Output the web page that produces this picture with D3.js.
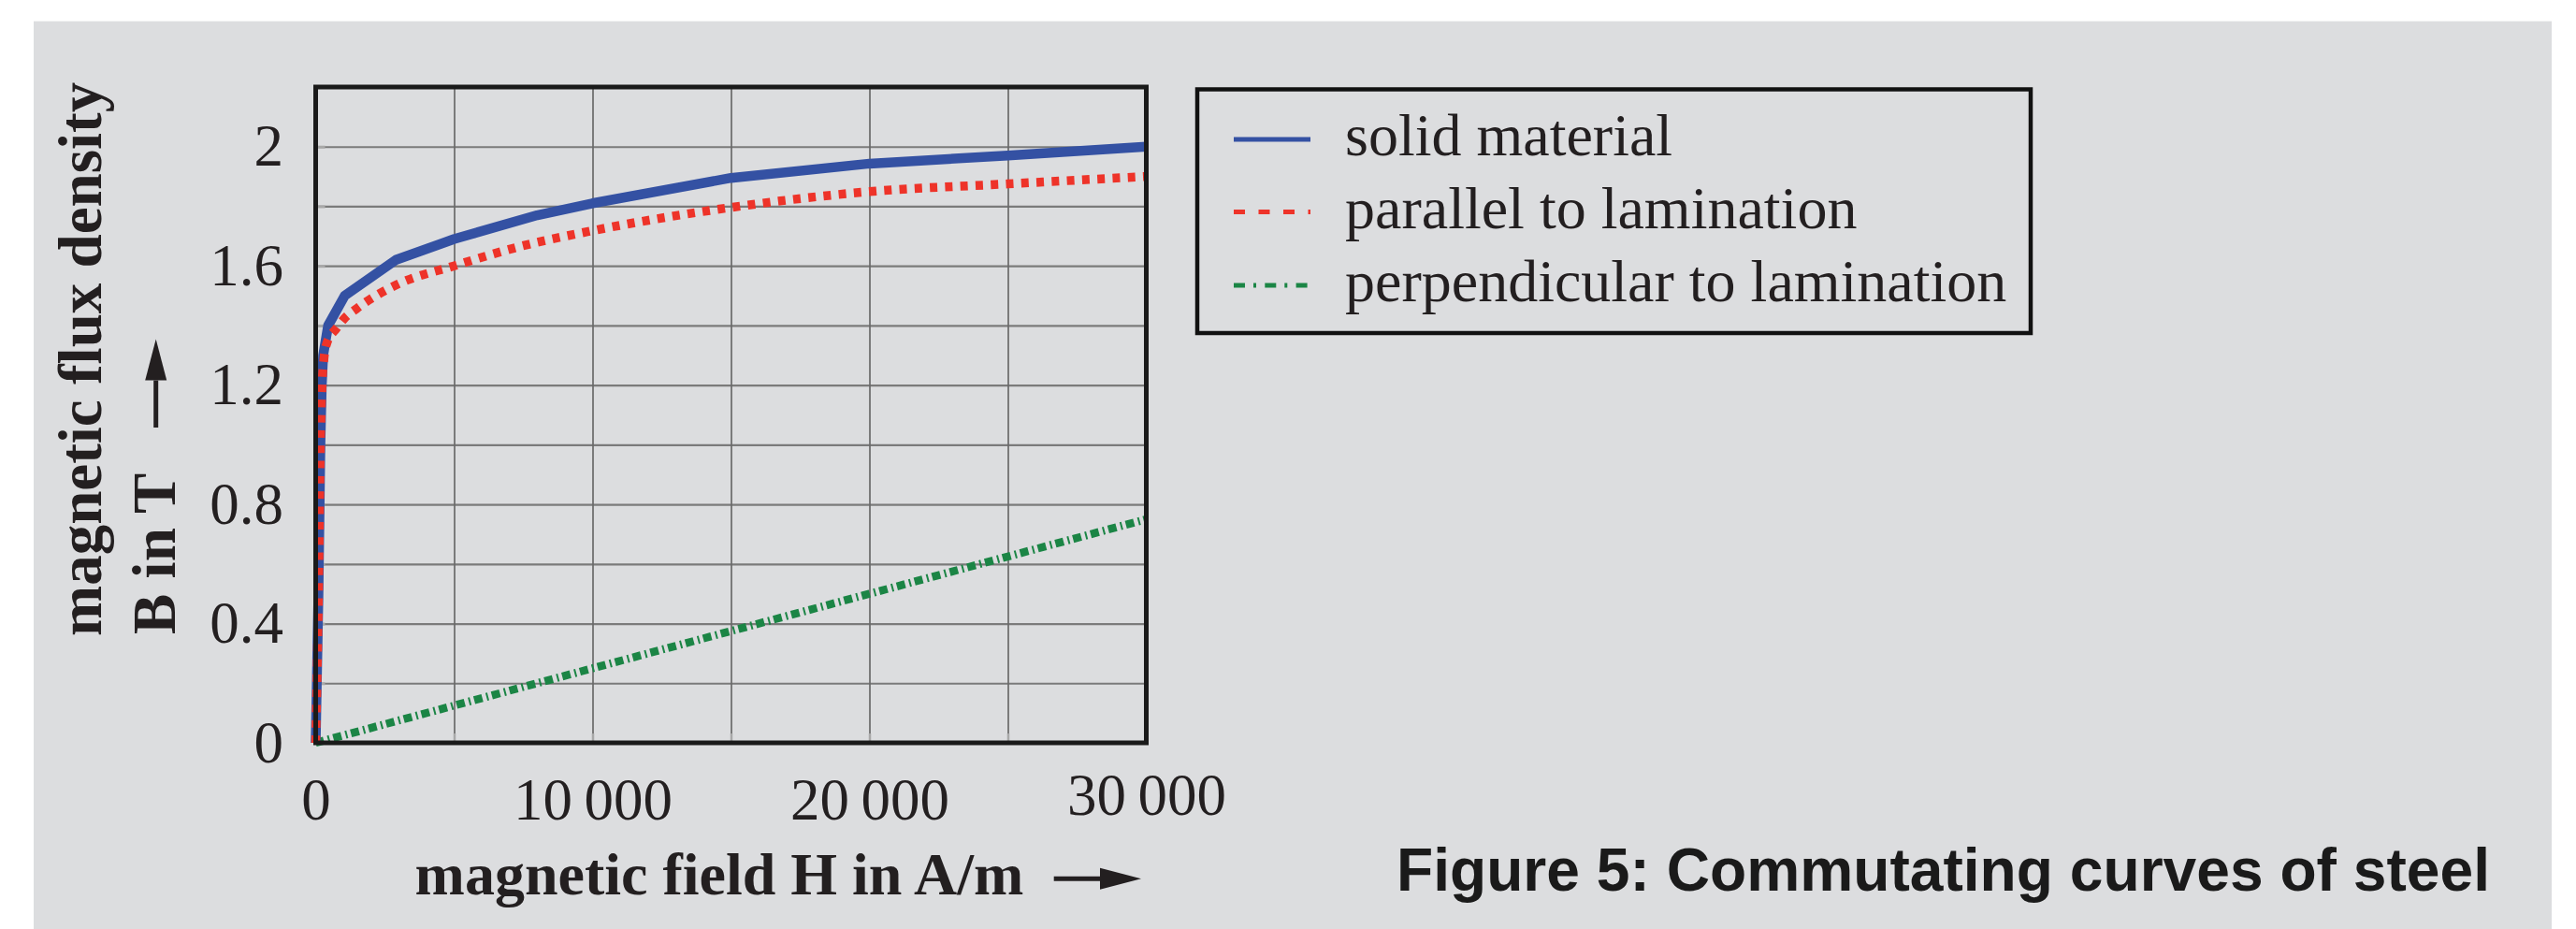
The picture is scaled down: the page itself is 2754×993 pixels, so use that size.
<!DOCTYPE html>
<html>
<head>
<meta charset="utf-8">
<script src="https://cdn.jsdelivr.net/npm/d3@7"></script>
<style>
body { margin: 0; background: #fff; }
</style>
</head>
<body>
<div id="chart"></div>
<script>
// tick labels and grid positions
const xTicks = [0, 10000, 20000, 30000];
const yTicks = [0, 0.4, 0.8, 1.2, 1.6, 2];
const xGrid = [5000, 10000, 15000, 20000, 25000];
const yGrid = [0.2, 0.4, 0.6, 0.8, 1.0, 1.2, 1.4, 1.6, 1.8, 2.0];

// series (H in A/m, B in T)
const solidH = [0, 100, 170, 220, 270, 450, 1050, 2900, 5000, 8000, 10000, 15000, 20000, 25000, 30000];
const solidB = [0, 0.5, 1.0, 1.2, 1.3, 1.4, 1.5, 1.62, 1.69, 1.77, 1.81, 1.895, 1.943, 1.97, 2.0];

const parallelH = [0, 100, 170, 230, 300, 400, 750, 1000, 1500, 2000, 3000, 5000, 7300, 10000, 15000, 20000, 25000, 30000];
const parallelB = [0, 0.5, 1.0, 1.2, 1.29, 1.34, 1.39, 1.42, 1.458, 1.49, 1.54, 1.6, 1.663, 1.718, 1.796, 1.849, 1.875, 1.90];

const perpH = [0, 10000, 20000, 30000];
const perpB = [0, 0.25, 0.5, 0.75];

const seriesNames = ["solid material", "parallel to lamination", "perpendicular to lamination"];

const W = 2754, H = 993;
const curX = 337.5, curY = 93;          // plot origin (top-left)
const width = 888, height = 701;

const INK = "#231f20";
const SERIF = '"Liberation Serif", "Times New Roman", serif';
const colors = ["#3451a3", "#ee3329", "#1b8545"];

const svg = d3.select("#chart").append("svg")
    .attr("width", W)
    .attr("height", H);

// grey panel
svg.append("rect")
    .attr("x", 36).attr("y", 22.7)
    .attr("width", 2692).attr("height", H - 22.7)
    .attr("fill", "#dcdddf");

var x = d3.scaleLinear().domain([0, 30000]).range([0, width]);
var y = d3.scaleLinear().domain([0, 2.2]).range([height, 0]);

var plot = svg.append("g")
    .attr("transform", "translate(" + curX + "," + curY + ")");

// horizontal grid
plot.append("g")
    .call(d3.axisLeft(y).tickValues(yGrid).tickSize(-width).tickFormat(""))
    .call(s => s.select(".domain").remove())
    .selectAll("line")
    .attr("stroke", "#7b7b7b")
    .attr("stroke-width", 2.2);

// vertical grid
plot.append("g")
    .attr("transform", "translate(0," + height + ")")
    .call(d3.axisBottom(x).tickValues(xGrid).tickSize(-height).tickFormat(""))
    .call(s => s.select(".domain").remove())
    .selectAll("line")
    .attr("stroke", "#6a6a6a")
    .attr("stroke-width", 1.7);

// light inner ticks
plot.append("g")
    .call(d3.axisLeft(y).tickValues(yGrid).tickSize(-10).tickFormat(""))
    .call(s => s.select(".domain").remove())
    .selectAll("line")
    .attr("stroke", "#a8a8a8")
    .attr("stroke-width", 3);
plot.append("g")
    .attr("transform", "translate(0," + height + ")")
    .call(d3.axisBottom(x).tickValues(xGrid).tickSize(-10).tickFormat(""))
    .call(s => s.select(".domain").remove())
    .selectAll("line")
    .attr("stroke", "#a8a8a8")
    .attr("stroke-width", 2.5);

// curves
var line = d3.line().x(d => x(d[0])).y(d => y(d[1]));

plot.append("path")
    .datum(d3.zip(perpH, perpB))
    .attr("fill", "none")
    .attr("stroke", colors[2])
    .attr("stroke-width", 8.5)
    .attr("stroke-dasharray", "9,4.5,2,4")
    .attr("d", line);

plot.append("path")
    .datum(d3.zip(solidH, solidB))
    .attr("fill", "none")
    .attr("stroke", colors[0])
    .attr("stroke-width", 10.5)
    .attr("stroke-linejoin", "round")
    .attr("d", line);

plot.append("path")
    .datum(d3.zip(parallelH, parallelB))
    .attr("fill", "none")
    .attr("stroke", colors[1])
    .attr("stroke-width", 9.5)
    .attr("stroke-dasharray", "8,8.3")
    .attr("d", line.curve(d3.curveMonotoneX));

// frame
plot.append("rect")
    .attr("width", width)
    .attr("height", height)
    .attr("fill", "none")
    .attr("stroke", "#1a1a1a")
    .attr("stroke-width", 5);

// tick labels
var yAxis = plot.append("g")
    .call(d3.axisLeft(y).tickValues(yTicks).tickSize(0).tickPadding(34.5).tickFormat(d3.format("~g")));
yAxis.select(".domain").remove();
yAxis.attr("font-family", SERIF).attr("font-size", 63);
yAxis.selectAll("text").attr("fill", INK);

var fmt = d3.formatLocale({decimal: ".", thousands: "\u2009", grouping: [3], currency: ["", ""]}).format(",d");
var xAxis = plot.append("g")
    .attr("transform", "translate(0," + height + ")")
    .call(d3.axisBottom(x).tickValues(xTicks).tickSize(0).tickPadding(37).tickFormat(fmt));
xAxis.select(".domain").remove();
xAxis.attr("font-family", SERIF).attr("font-size", 63);
xAxis.selectAll("text").attr("fill", INK)
    .attr("y", (d, i) => i === xTicks.length - 1 ? 32 : 37);

// axis titles
svg.append("text")
    .attr("x", 443.6).attr("y", 955.5)
    .attr("font-family", SERIF).attr("font-weight", "bold").attr("font-size", 64)
    .attr("fill", INK)
    .text("magnetic field H in A/m");

svg.append("text")
    .attr("transform", "translate(108,680) rotate(-90)")
    .attr("font-family", SERIF).attr("font-weight", "bold").attr("font-size", 65)
    .attr("fill", INK)
    .text("magnetic flux density");

svg.append("text")
    .attr("transform", "translate(187,678) rotate(-90)")
    .attr("font-family", SERIF).attr("font-weight", "bold").attr("font-size", 65)
    .attr("fill", INK)
    .text("B in T");

function arrow(x1, y1, x2, y2) {
    var len = Math.hypot(x2 - x1, y2 - y1);
    var ux = (x2 - x1) / len, uy = (y2 - y1) / len;
    var hl = 44, hw = 11.5;
    var bx = x2 - ux * hl, by = y2 - uy * hl;
    svg.append("line")
        .attr("x1", x1).attr("y1", y1).attr("x2", bx).attr("y2", by)
        .attr("stroke", INK).attr("stroke-width", 5);
    svg.append("path")
        .attr("d", "M" + x2 + "," + y2 +
            "L" + (bx - uy * hw) + "," + (by + ux * hw) +
            "L" + (bx + uy * hw) + "," + (by - ux * hw) + "Z")
        .attr("fill", INK);
}
arrow(1126.7, 939.3, 1220, 939.3);
arrow(166.7, 457, 166.7, 362.6);

// legend
var legend = svg.append("g")
    .attr("transform", "translate(1280,95.5)");

legend.append("rect")
    .attr("width", 891)
    .attr("height", 260.5)
    .attr("fill", "none")
    .attr("stroke", "#111")
    .attr("stroke-width", 4.5);

var dashes = [null, "12,14.5", "12,9,3,9.3"];
var legY = [53.5, 131, 209.5];

seriesNames.forEach((name, i) => {
    legend.append("line")
        .attr("x1", 39).attr("x2", 121)
        .attr("y1", legY[i]).attr("y2", legY[i])
        .attr("stroke", colors[i])
        .attr("stroke-width", 5)
        .attr("stroke-dasharray", dashes[i]);
    legend.append("text")
        .attr("x", 158).attr("y", legY[i] + 17)
        .attr("font-family", SERIF).attr("font-size", 64)
        .attr("fill", INK)
        .text(name);
});

// caption
svg.append("text")
    .attr("x", 1493).attr("y", 951.7)
    .attr("font-family", '"Liberation Sans", Arial, sans-serif')
    .attr("font-weight", "bold").attr("font-size", 64)
    .attr("textLength", 1169).attr("lengthAdjust", "spacingAndGlyphs")
    .attr("fill", "#1a1a1a")
    .text("Figure 5: Commutating curves of steel");
</script>
</body>
</html>
